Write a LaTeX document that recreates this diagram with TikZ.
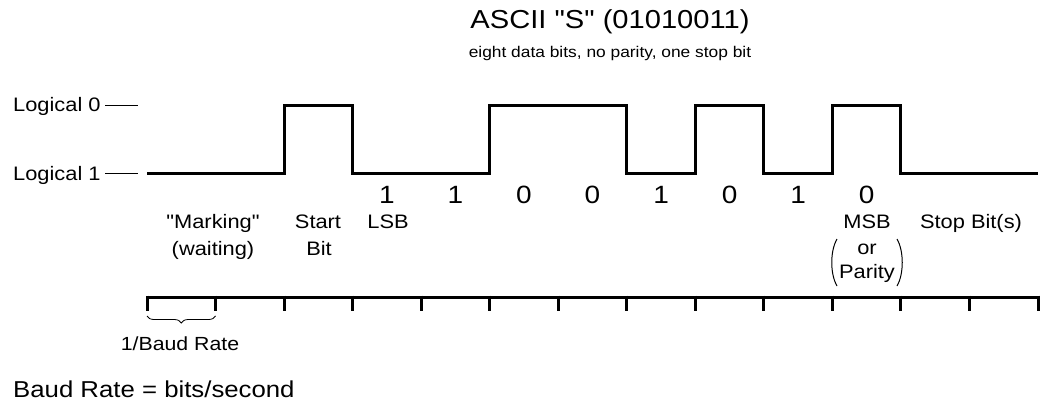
\documentclass[tikz,border=0pt]{standalone}
\usepackage{fontspec}
\setmainfont{Liberation Sans}[FakeStretch=1.12,Ligatures=TeXOff]
\usetikzlibrary{decorations.pathreplacing}
\begin{document}
\begin{tikzpicture}[x=1pt,y=-1pt,
  lbl/.style={inner sep=0pt, anchor=base, font=\fontsize{19.5}{22}\selectfont},
  digit/.style={inner sep=0pt, anchor=base, font=\fontsize{25}{28}\selectfont},
  wave/.style={line width=3pt, line join=miter, line cap=butt},
  hair/.style={line width=1pt},
  tick/.style={line width=3pt, line cap=butt}
]
\useasboundingbox (0,0) rectangle (1053,410);
\def\xo{147}
\def\bw{68.54}
% title
\node[inner sep=0pt, anchor=base, font=\fontsize{26}{30}\selectfont] (title) at (610,28) {ASCII "S" (01010011)};
\node[inner sep=0pt, anchor=base, font=\fontsize{15.5}{18}\selectfont] (sub) at (610,57) {eight data bits, no parity, one stop bit};
% level labels
\node[lbl, anchor=base west] (l0) at (13,111) {Logical 0};
\node[lbl, anchor=base west] (l1) at (13,180) {Logical 1};
\coordinate (d0a) at (105,105); \coordinate (d0b) at (138,105);
\coordinate (d1a) at (105,173); \coordinate (d1b) at (138,173);
\draw[hair] (d0a) -- (d0b);
\draw[hair] (d1a) -- (d1b);
% waveform
\draw[wave] (\xo,173)
  -- ({\xo+2*\bw},173) -- ({\xo+2*\bw},105) -- ({\xo+3*\bw},105) -- ({\xo+3*\bw},173)
  -- ({\xo+5*\bw},173) -- ({\xo+5*\bw},105) -- ({\xo+7*\bw},105) -- ({\xo+7*\bw},173)
  -- ({\xo+8*\bw},173) -- ({\xo+8*\bw},105) -- ({\xo+9*\bw},105) -- ({\xo+9*\bw},173)
  -- ({\xo+10*\bw},173) -- ({\xo+10*\bw},105) -- ({\xo+11*\bw},105) -- ({\xo+11*\bw},173)
  -- ({\xo+13*\bw},173);
% bit values
\foreach \i/\v in {3/1,4/1,5/0,6/0,7/1,8/0,9/1,10/0}
  \node[digit] (b\i) at ({\xo+(\i+0.5)*\bw},203) {\v};
% descriptions
\node[lbl] (mk) at (213,228) {"Marking"};
\node[lbl] (wt) at (213,255) {(waiting)};
\node[lbl] (st) at (318,228) {Start};
\node[lbl] (sb) at (319,255) {Bit};
\node[lbl] (lsb) at (388,228) {LSB};
\node[lbl] (msb) at (867,228) {MSB};
\node[lbl] (or) at (867,254) {or};
\node[lbl] (par) at (867,278) {Parity};
\node[lbl] (stop) at (971,228) {Stop Bit(s)};
\coordinate (pl1) at (837,239); \coordinate (pl2) at (837,286);
\coordinate (pr1) at (897,239); \coordinate (pr2) at (897,286);
\draw[hair] (pl1) .. controls (830,251) and (830,274) .. (pl2);
\draw[hair] (pr1) .. controls (904,251) and (904,274) .. (pr2);
% time axis
\draw[wave] (\xo,297) -- ({\xo+13*\bw},297);
\foreach \i in {0,...,13}
  \draw[tick] ({\xo+\i*\bw},295.5) -- ({\xo+\i*\bw},311);
% brace
\coordinate (ba) at (\xo,316); \coordinate (bb) at ({\xo+\bw},316);
\draw[decorate, decoration={brace, mirror, amplitude=7pt}, line width=0.8pt] (ba) -- (bb);
\node[lbl, font=\fontsize{19}{22}\selectfont] (br) at (180,350) {1/Baud Rate};
\node[lbl, anchor=base west, font=\fontsize{23}{26}\selectfont] (bd) at (13,397) {Baud Rate = bits/second};
\end{tikzpicture}
\end{document}
